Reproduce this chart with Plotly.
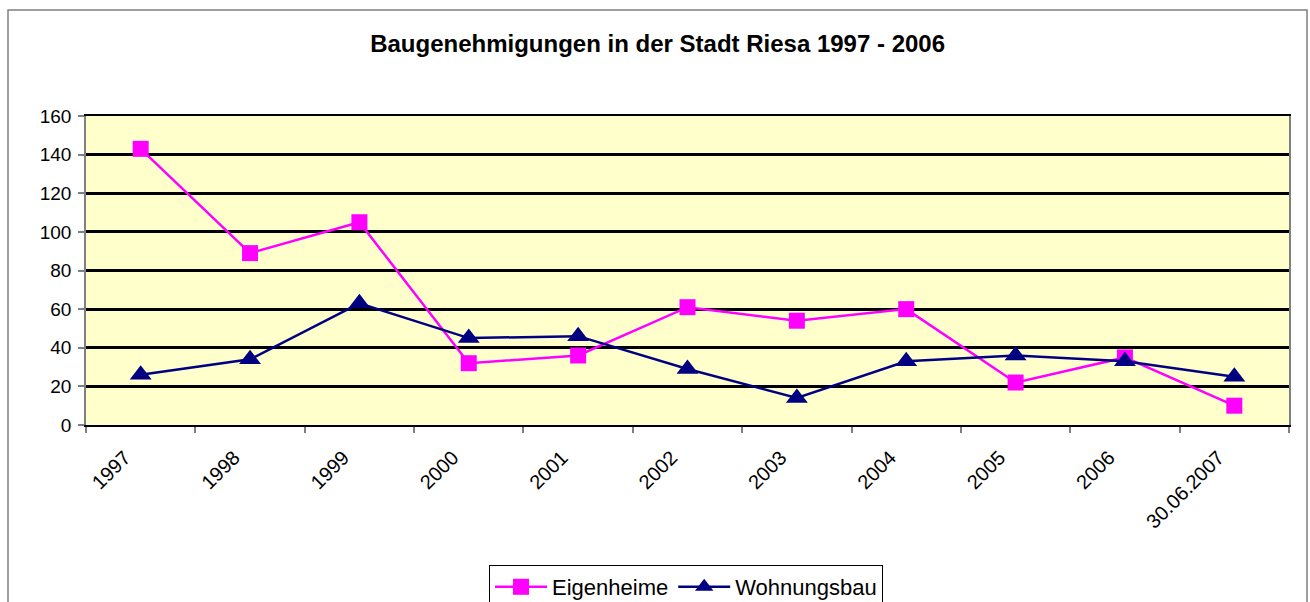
import plotly.graph_objects as go

categories = ["1997", "1998", "1999", "2000", "2001", "2002", "2003", "2004", "2005", "2006", "30.06.2007"]
eigenheime = [143, 89, 105, 32, 36, 61, 54, 60, 22, 35, 10]
wohnungsbau = [26, 34, 63, 45, 46, 29, 14, 33, 36, 33, 25]
y_ticks = [0, 20, 40, 60, 80, 100, 120, 140, 160]

W, H = 1310, 602
L, R, T, B = 86, 1289, 116, 425
pw, ph = R - L, B - T

def px_x(x):
    return (x - L) / pw

def px_y(y):
    return (B - y) / ph

fig = go.Figure()
fig.add_trace(go.Scatter(
    x=categories, y=eigenheime, name="Eigenheime", mode="lines+markers",
    line=dict(color="#FF00FF", width=2.5),
    marker=dict(symbol="square", size=16, color="#FF00FF"),
))
fig.add_trace(go.Scatter(
    x=categories, y=wohnungsbau, name="Wohnungsbau", mode="lines+markers",
    line=dict(color="#000080", width=2.5),
    marker=dict(symbol="triangle-up", size=19, color="#000080"),
))

font = "Liberation Sans, Arial, sans-serif"
fig.update_layout(
    width=W, height=H,
    margin=dict(l=L, r=W - R, t=T, b=H - B, autoexpand=False),
    paper_bgcolor="white", plot_bgcolor="#FFFFCC",
    font=dict(family=font, size=19, color="black"),
    title=dict(text="<b>Baugenehmigungen in der Stadt Riesa 1997 - 2006</b>",
               x=0.502, xanchor="center", y=1 - 44 / H, yanchor="middle",
               font=dict(size=24, family=font, color="black")),
    showlegend=True,
    legend=dict(orientation="h", x=px_x(686), xanchor="center", y=px_y(565), yanchor="top",
                bordercolor="black", borderwidth=1, bgcolor="white",
                font=dict(size=22, family=font), tracegroupgap=0, itemwidth=52),
    xaxis=dict(type="category", range=[-0.5, len(categories) - 0.5],
               tickson="boundaries", ticks="outside", ticklen=6, tickcolor="#808080", tickwidth=1.5,
               tickangle=-45, showgrid=False, showline=True, linecolor="black", linewidth=2,
               mirror=True, tickfont=dict(size=20, family=font), fixedrange=True,
               ticklabelshift=-16, ticklabelstandoff=11),
    yaxis=dict(range=[0, 160], tickvals=y_ticks, ticks="outside", ticklen=6, tickcolor="#808080",
               tickwidth=1.5, showgrid=True, gridcolor="black", gridwidth=2.5,
               showline=True, linecolor="#808080", linewidth=1.5, mirror=True, zeroline=False,
               tickfont=dict(size=19, family=font), fixedrange=True, ticklabelstandoff=3),
    shapes=[dict(type="rect", xref="paper", yref="paper",
                 x0=px_x(8), x1=px_x(1307), y0=px_y(615), y1=px_y(10),
                 line=dict(color="#808080", width=1.5), fillcolor="rgba(0,0,0,0)", layer="below")],
)

fig.write_html("out.html", config={"displayModeBar": False},
               post_script="document.body.style.margin='0';document.body.style.overflow='hidden';")
